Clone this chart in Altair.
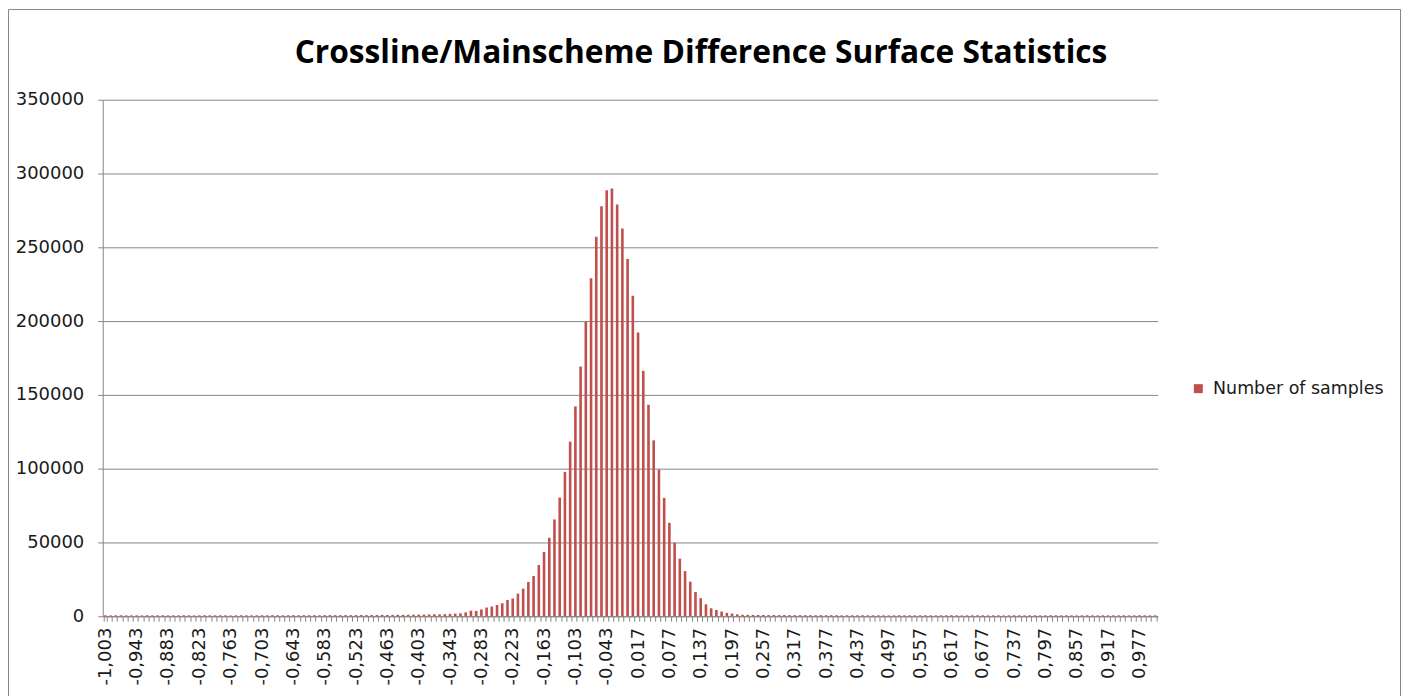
import json
import altair as alt
import pandas as pd

# ---- data -------------------------------------------------------------
categories = [f"{-1.003 + 0.01 * i:.3f}".replace('.', ',') for i in range(202)]

left_tail = [600, 550, 600, 650, 550, 600, 600, 550, 650, 600,
             600, 650, 550, 600, 600, 650, 600, 550, 600, 650,
             600, 600, 650, 600, 550, 600, 650, 600, 600, 650,
             650, 600, 700, 650, 600, 650, 700, 650, 700, 650,
             700, 650, 700, 750, 700, 700, 750, 700, 750, 800,
             750, 800]
left_ramp = [800, 900, 850, 900, 1000, 950, 1000, 1100, 1050, 1100,
             1200, 1300, 1250, 1400, 1600, 1800,
             2000, 2600, 3800, 3600, 4600, 5900, 6600, 7600]
core = [8800, 11000, 12000, 15300, 18700, 23200, 27300, 34700, 43500, 53200,
        65600, 80400, 97800, 118300, 142200, 169200, 199600, 229000, 257100, 277800,
        288600, 289800, 279000, 262800, 242000, 217200, 192200, 166300, 143300, 119200,
        99400, 80200, 63300, 49800, 39000, 30600, 23400, 16400, 12200, 8100,
        5400, 4300, 3200, 2300, 1800, 1300, 1000]
right_tail = [950, 900, 850, 850, 800, 800, 750, 800, 750, 700,
              750, 700, 700, 650, 700, 650, 700, 650, 600, 650,
              650, 600, 650, 600, 600, 650, 600, 550, 600, 650,
              600, 600, 550, 600, 650, 600, 550, 600, 600, 650,
              600, 550, 600, 600, 650, 600, 550, 600, 600, 550,
              600, 650, 600, 550, 600, 600, 550, 600, 650, 600,
              550, 600, 600, 550, 600, 650, 600, 550, 600, 600,
              550, 600, 600, 550, 600, 650, 600, 550, 600]
counts = left_tail + left_ramp + core + right_tail

series_name = "Number of samples"
title_text = "Crossline/Mainscheme Difference Surface Statistics"
y_ticks = [0, 50000, 100000, 150000, 200000, 250000, 300000, 350000]
labeled = categories[::6]

df = pd.DataFrame({"bin": categories, "count": counts, "series": [series_name] * len(categories)})

GRAY = "#868686"
TXT = "#1a1a1a"
FONT = "DejaVu Sans"

label_expr = "indexof(" + json.dumps(labeled) + ", datum.value) >= 0 ? datum.value : ''"

bars = alt.Chart(df).mark_bar().encode(
    x=alt.X(
        "bin:O",
        sort=categories,
        scale=alt.Scale(paddingInner=0.5, paddingOuter=0.25),
        axis=alt.Axis(
            title=None, labelAngle=-90, labelExpr=label_expr, labelOverlap=False,
            tickBand="extent", ticks=True, tickSize=5, tickColor=GRAY,
            domainColor=GRAY, labelFont=FONT, labelFontSize=18, labelColor=TXT,
            labelPadding=6, grid=False,
        ),
    ),
    y=alt.Y(
        "count:Q",
        scale=alt.Scale(domain=[0, 350000], nice=False),
        axis=alt.Axis(
            title=None, values=y_ticks, format="d", grid=True, gridColor=GRAY,
            domain=True, domainColor=GRAY, ticks=True, tickSize=5, tickColor=GRAY,
            labelFont=FONT, labelFontSize=18, labelColor=TXT, labelPadding=14,
        ),
    ),
    color=alt.Color(
        "series:N",
        scale=alt.Scale(domain=[series_name], range=["#C0504D"]),
        legend=alt.Legend(
            title=None, orient="none", legendX=1090, legendY=281,
            symbolType="square", symbolSize=81, symbolStrokeWidth=0,
            labelFont=FONT, labelFontSize=17.5, labelColor=TXT, labelOffset=6,
            labelLimit=400,
        ),
    ),
)

frame = alt.Chart(pd.DataFrame({"a": [0]})).mark_rect(
    fillOpacity=0, stroke=GRAY, strokeWidth=1
).encode(
    x=alt.value(-94.5), x2=alt.value(1301.5), y=alt.value(-90.5), y2=alt.value(700)
)

title = alt.Chart(pd.DataFrame({"t": [title_text]})).mark_text(
    font="Open Sans", fontSize=31.8, fontWeight="bold", color="#000000",
    align="center", baseline="alphabetic",
).encode(
    text="t:N", x=alt.value(600), y=alt.value(-37)
)

chart = alt.layer(frame, bars, title).properties(
    width=1058,
    height=518,
    autosize="none",
    padding={"left": 95, "top": 91, "right": 244, "bottom": 79},
).configure_view(stroke=None)

chart.save("out.html", embed_options={"renderer": "svg", "actions": False})
